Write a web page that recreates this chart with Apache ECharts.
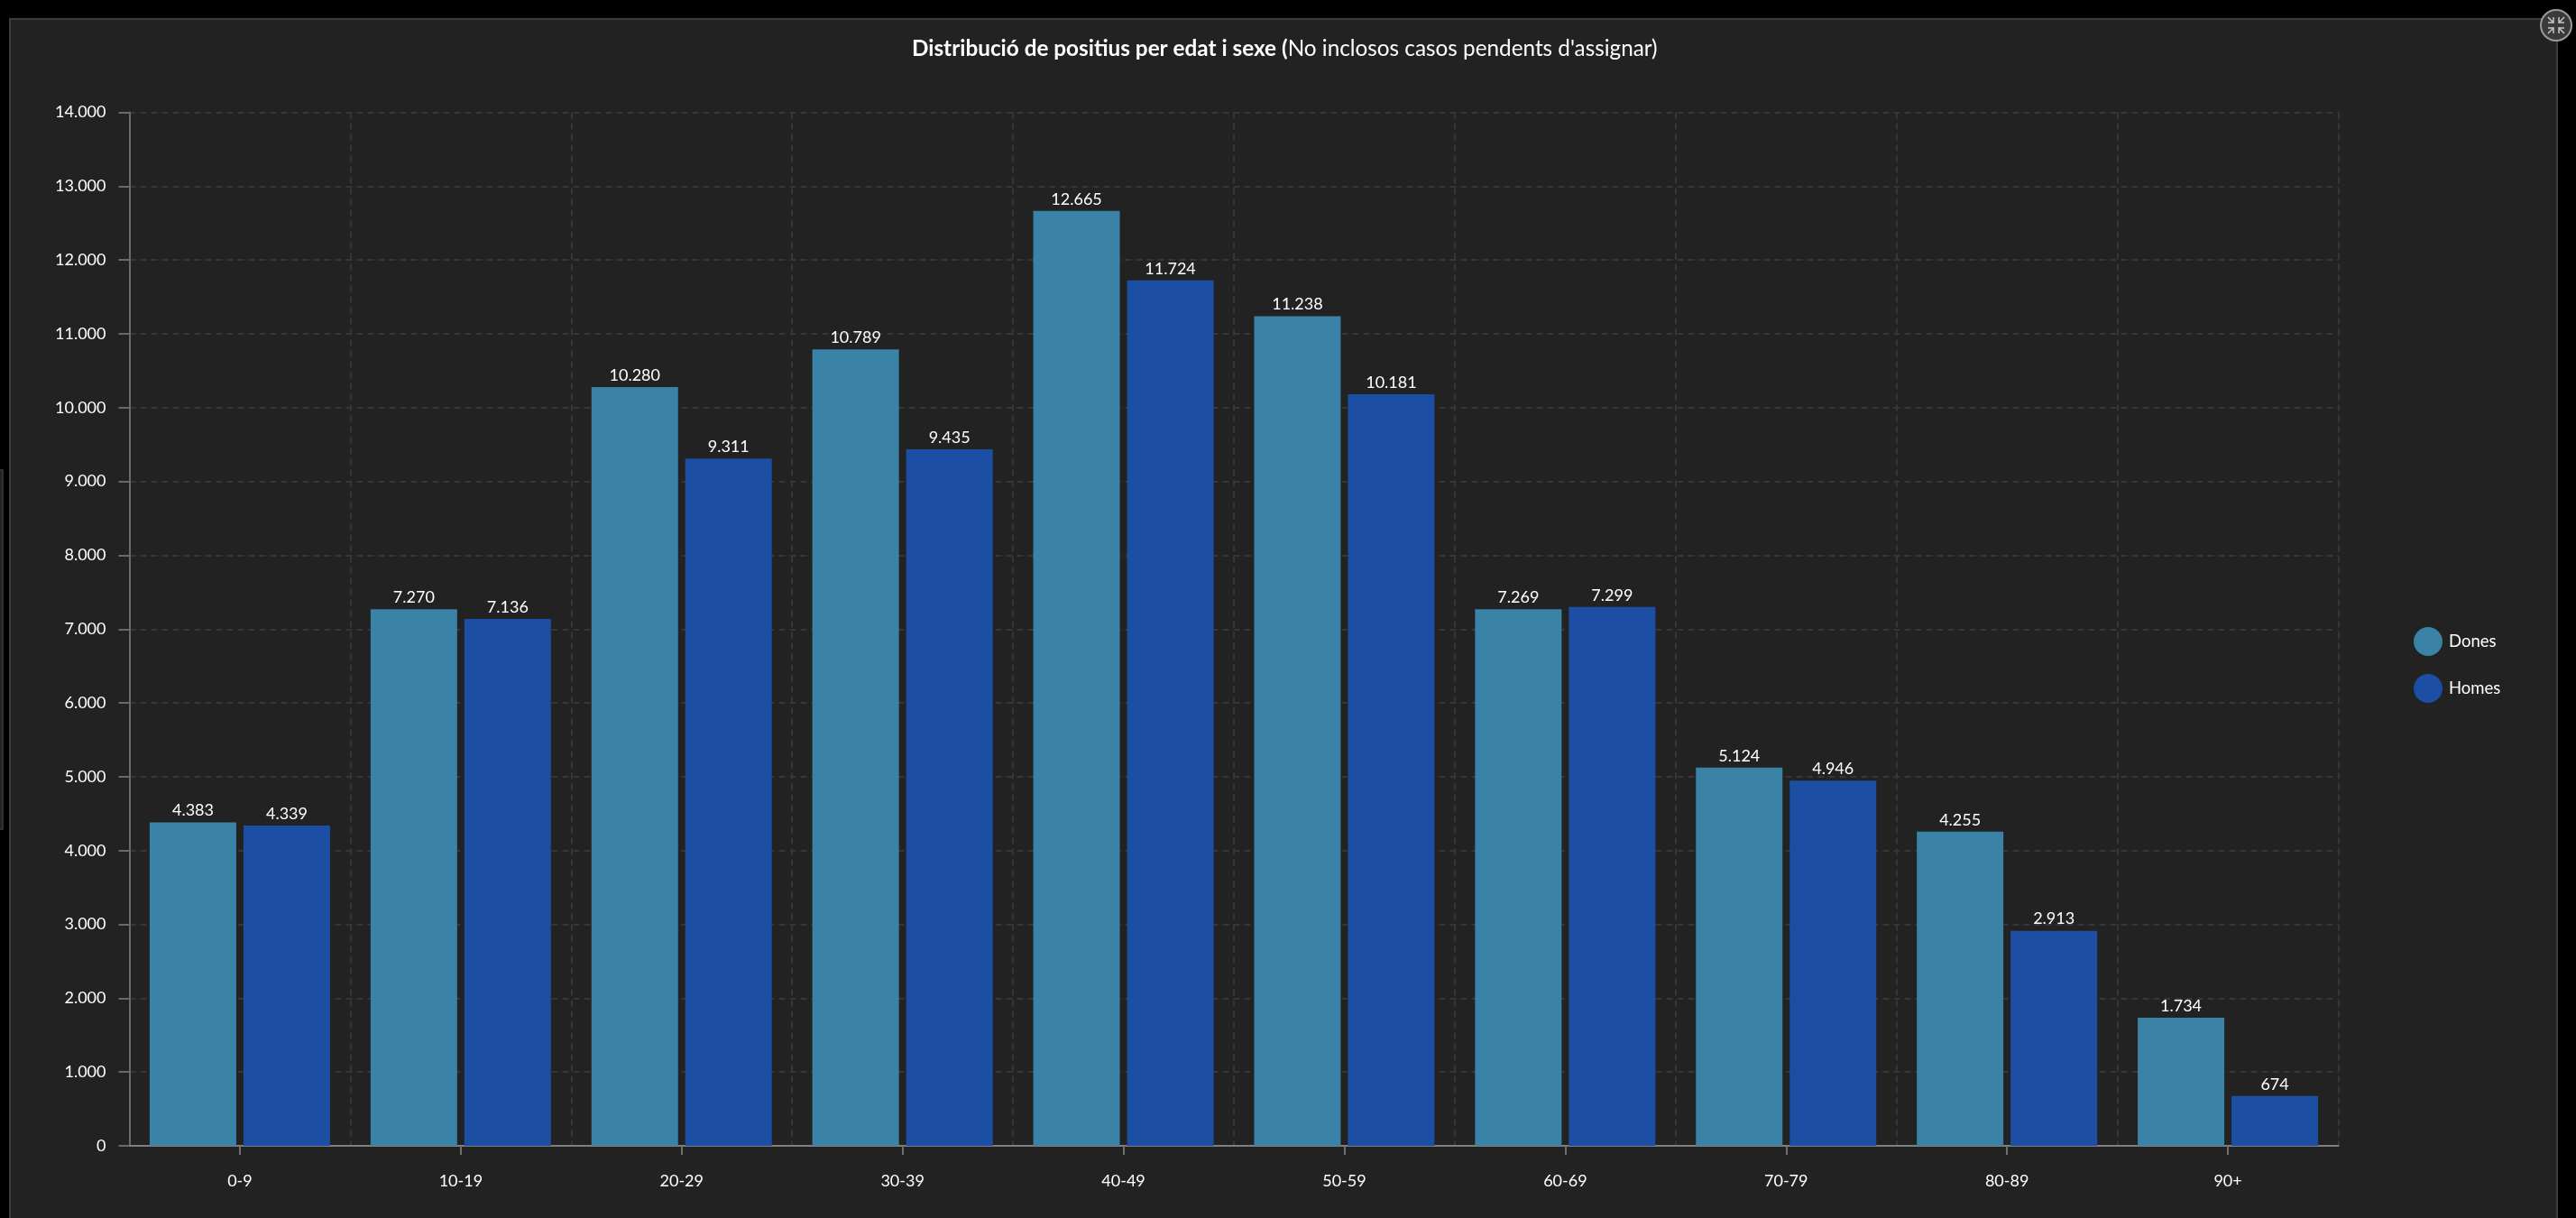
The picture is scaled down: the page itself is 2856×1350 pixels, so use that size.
<!DOCTYPE html>
<html><head><meta charset="utf-8">
<style>html,body{margin:0;padding:0;background:#000}#c{width:2856px;height:1350px}</style>
<script src="https://cdn.jsdelivr.net/npm/echarts@6/dist/echarts.min.js"></script>
</head><body><div id="c"></div>
<script>
const categories = ['0-9','10-19','20-29','30-39','40-49','50-59','60-69','70-79','80-89','90+'];
const dones = [4383,7270,10280,10789,12665,11238,7269,5124,4255,1734];
const homes = [4339,7136,9311,9435,11724,10181,7299,4946,2913,674];
const FONT = 'Lato';
const fmt = v => String(v).replace(/\B(?=(\d{3})+(?!\d))/g,'.');
const label = {show:true,position:'top',distance:4,color:'#fff',fontFamily:FONT,fontSize:18,formatter:p=>fmt(p.value)};
const chart = echarts.init(document.getElementById('c'),null,{renderer:'canvas'});
const iconLine = pts => ({type:'polyline',z:101,silent:true,shape:{points:pts},style:{stroke:'#c9c9c9',lineWidth:1.5,fill:null}});
chart.setOption({
  animation:false,
  backgroundColor:'#000',
  title:{
    left:1011,top:42,padding:0,
    text:"{b|Distribució de positius per edat i sexe (}{n|No inclosos casos pendents d'assignar)}",
    textStyle:{rich:{
      b:{fontFamily:FONT,fontSize:24.3,fontWeight:'bold',color:'#fff'},
      n:{fontFamily:FONT,fontSize:24.3,fontWeight:'normal',color:'#fff'}
    }}
  },
  legend:{
    orient:'vertical',left:2676,top:695,padding:0,itemWidth:32,itemHeight:32,itemGap:20,icon:'circle',
    textStyle:{color:'#fff',fontFamily:FONT,fontSize:18.5,padding:[3,0,0,2]},
    data:['Dones','Homes']
  },
  grid:{left:143.5,right:263.5,top:124.5,bottom:80},
  xAxis:{
    type:'category',data:categories,
    axisLine:{lineStyle:{color:'#808080',width:2}},
    axisTick:{show:true,alignWithLabel:true,length:10,lineStyle:{color:'#6e6e6e',width:2}},
    axisLabel:{color:'#fff',fontFamily:FONT,fontSize:18,margin:30,interval:0},
    splitLine:{show:true,lineStyle:{color:'#363636',width:2,type:[7,5]}}
  },
  yAxis:{
    type:'value',min:0,max:14000,interval:1000,
    axisLine:{show:true,lineStyle:{color:'#6a6a6a',width:2}},
    axisTick:{show:true,length:12,lineStyle:{color:'#6a6a6a',width:2}},
    axisLabel:{color:'#fff',fontFamily:FONT,fontSize:18,margin:26,padding:[7,0,0,0],formatter:fmt},
    splitLine:{show:true,lineStyle:{color:'#363636',width:2,type:[7,5]}}
  },
  series:[
    {name:'Dones',type:'bar',data:dones,barWidth:96,barGap:'8.33%',itemStyle:{color:'#3a82a6'},label},
    {name:'Homes',type:'bar',data:homes,barWidth:96,barGap:'8.33%',itemStyle:{color:'#1c4fa3'},label}
  ],
  graphic:[
    {type:'rect',z:-10,silent:true,shape:{x:11,y:21,width:2824,height:1340},style:{fill:'#222222',stroke:'#3c3c3c',lineWidth:2}},
    {type:'rect',z:-10,silent:true,shape:{x:-2,y:521,width:5,height:398},style:{fill:'#222222',stroke:'#3c3c3c',lineWidth:1.5}},
    {type:'circle',z:100,silent:true,shape:{cx:2834,cy:28,r:17},style:{fill:'#3a3a3a',stroke:'#9a9a9a',lineWidth:2}},
    iconLine([[2825,19],[2831,25]]), iconLine([[2825,25],[2831,25],[2831,19]]),
    iconLine([[2843,19],[2837,25]]), iconLine([[2843,25],[2837,25],[2837,19]]),
    iconLine([[2825,37],[2831,31]]), iconLine([[2825,31],[2831,31],[2831,37]]),
    iconLine([[2843,37],[2837,31]]), iconLine([[2843,31],[2837,31],[2837,37]])
  ]
});
</script></body></html>
